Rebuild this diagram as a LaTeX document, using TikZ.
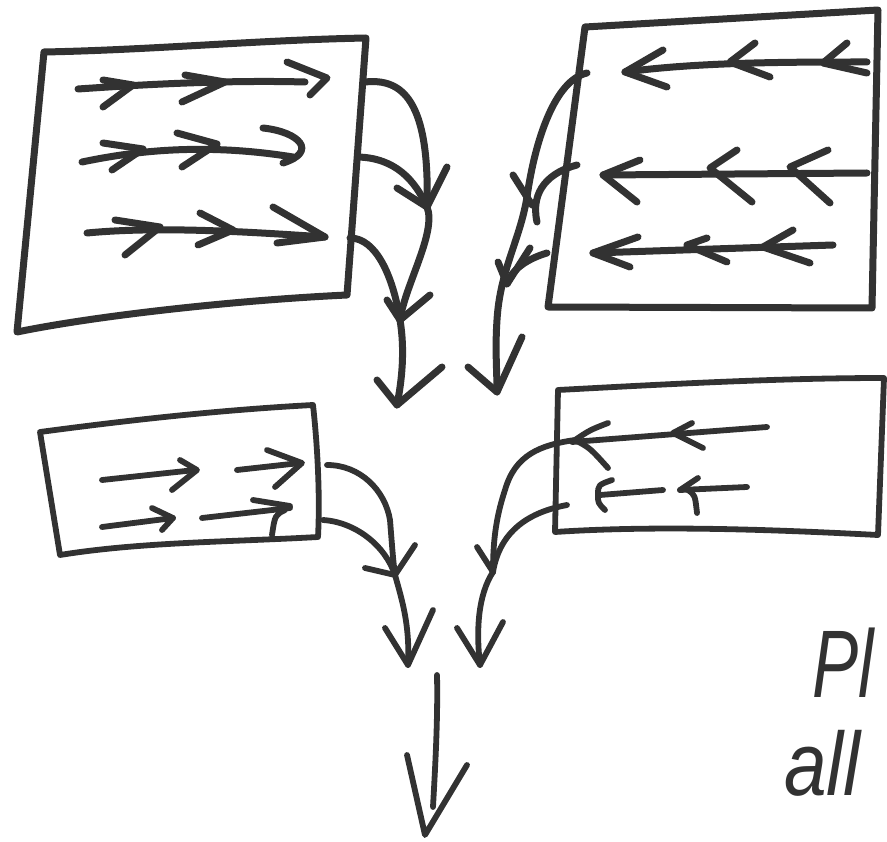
\documentclass[tikz,border=0pt]{standalone}
\usepackage{fontspec}
\newfontfamily\handfont{Liberation Sans}
\definecolor{ink}{RGB}{50,50,50}
\begin{document}
\begin{tikzpicture}[x=1pt,y=-1pt,
  pen/.style={draw=ink,line width=7pt,line cap=round,line join=round},
  thinpen/.style={draw=ink,line width=5.8pt,line cap=round,line join=round},
  handtext/.style={text=ink,font=\handfont\itshape,inner sep=0pt,anchor=south west}]
\useasboundingbox (0,0) rectangle (887,842);
\clip (0,0) rectangle (887,842);
\fill[white] (0,0) rectangle (887,842);

% ---------------- top-left box ----------------
\coordinate (tl1) at (44,52);
\coordinate (tl2) at (366,38);
\coordinate (tl3) at (347,295);
\coordinate (tl4) at (17,332);
\draw[pen] (tl1) .. controls (150,50) and (260,40) .. (tl2) -- (tl3) .. controls (240,300) and (100,315) .. (tl4) -- cycle;
% row 1
\draw[pen] (78,89) .. controls (150,84) and (230,80) .. (305,82);
\draw[pen] (103,80) -- (133,85) -- (103,107);
\draw[pen] (185,75) -- (225,82) -- (182,102);
\draw[pen] (287,62) -- (327,78) -- (310,95);
% row 2
\draw[pen] (82,162) .. controls (130,152) and (200,142) .. (293,157);
\draw[pen] (103,143) -- (143,149) -- (112,170);
\draw[pen] (177,133) -- (217,144) -- (182,167);
\draw[pen] (263,128) .. controls (300,132) and (318,152) .. (283,163);
% row 3
\draw[pen] (87,233) .. controls (160,226) and (250,232) .. (325,237);
\draw[pen] (115,220) -- (160,227) -- (125,255);
\draw[pen] (200,213) -- (233,230) -- (198,245);
\draw[pen] (273,207) -- (325,237) -- (277,243);

% connectors of top-left box
\coordinate (a1) at (365,82);
\coordinate (a2) at (358,157);
\coordinate (a3) at (350,238);
\coordinate (j1) at (427,207);
\coordinate (j2) at (400,320);
\coordinate (t1) at (397,405);
\draw[pen] (a1) .. controls (402,78) and (430,100) .. (j1);
\draw[pen] (a2) .. controls (395,158) and (415,180) .. (j1);
\draw[pen] (447,167) -- (j1) -- (397,188);
\draw[pen] (j1) .. controls (437,232) and (405,285) .. (j2);
\draw[pen] (a3) .. controls (376,238) and (393,276) .. (j2);
\draw[pen] (387,300) -- (j2) -- (430,295);
\draw[pen] (j2) .. controls (405,350) and (402,380) .. (t1);
\draw[pen] (377,380) -- (t1) -- (442,367);

% ---------------- top-right box ----------------
\coordinate (tr1) at (585,27);
\coordinate (tr2) at (878,10);
\coordinate (tr3) at (872,308);
\coordinate (tr4) at (548,307);
\draw[pen] (tr1) -- (tr2) -- (tr3) -- (tr4) -- cycle;
% row 1
\draw[pen] (867,62) .. controls (790,62) and (700,62) .. (625,72);
\draw[pen] (663,50) -- (625,72) -- (667,87);
\draw[pen] (755,43) -- (730,62) -- (770,77);
\draw[pen] (847,43) -- (823,63) -- (867,73);
% row 2
\draw[pen] (867,173) -- (603,175);
\draw[pen] (640,160) -- (603,175) -- (637,202);
\draw[pen] (737,150) -- (710,168) -- (752,202);
\draw[pen] (828,150) -- (790,167) -- (830,203);
% row 3
\draw[pen] (833,245) -- (593,253);
\draw[pen] (638,237) -- (593,253) -- (630,267);
\draw[pen] (707,238) -- (687,245) -- (727,262);
\draw[pen] (793,230) -- (763,247) -- (810,263);

% connectors of top-right box
\coordinate (b1) at (587,73);
\coordinate (b2) at (577,165);
\coordinate (b3) at (547,253);
\coordinate (j3) at (537,222);
\coordinate (j4) at (507,284);
\coordinate (t2) at (497,392);
\draw[pen] (b1) .. controls (555,80) and (535,140) .. (527,197) .. controls (520,240) and (500,270) .. (497,320) .. controls (495,350) and (497,370) .. (t2);
\draw[pen] (b2) .. controls (550,172) and (530,190) .. (j3);
\draw[pen] (513,175) -- (532,205);
\draw[pen] (b3) .. controls (530,258) and (512,268) .. (j4);
\draw[pen] (498,262) -- (j4) -- (530,248);
\draw[pen] (468,367) -- (t2) -- (522,337);

% ---------------- bottom-left box ----------------
\coordinate (bl1) at (40,432);
\coordinate (bl2) at (313,405);
\coordinate (bl3) at (318,537);
\coordinate (bl4) at (60,555);
\draw[thinpen] (bl1) .. controls (130,420) and (220,410) .. (bl2) .. controls (318,450) and (320,500) .. (bl3) .. controls (230,542) and (140,542) .. (bl4) -- cycle;
\draw[thinpen] (102,480) -- (195,470);
\draw[thinpen] (180,460) -- (197,470) -- (172,490);
\draw[thinpen] (237,470) -- (300,463);
\draw[thinpen] (267,450) -- (302,463) -- (275,487);
\draw[thinpen] (102,527) -- (173,518);
\draw[thinpen] (152,508) -- (173,518) -- (162,530);
\draw[thinpen] (202,518) -- (290,508);
\draw[thinpen] (253,500) -- (290,506);
\draw[thinpen] (285,510) .. controls (275,515) .. (272,535);

% connectors of bottom-left box
\coordinate (c1) at (327,465);
\coordinate (c2) at (323,520);
\coordinate (j5) at (395,575);
\coordinate (t3) at (408,665);
\draw[thinpen] (c1) .. controls (360,465) and (385,490) .. (390,520) .. controls (392,545) and (393,560) .. (j5);
\draw[thinpen] (c2) .. controls (355,522) and (385,545) .. (j5);
\draw[thinpen] (365,568) -- (j5) -- (415,545);
\draw[thinpen] (j5) .. controls (402,600) and (410,625) .. (t3);
\draw[thinpen] (385,628) -- (t3) -- (433,610);

% ---------------- bottom-right box ----------------
\coordinate (br1) at (558,390);
\coordinate (br2) at (884,378);
\coordinate (br3) at (878,535);
\coordinate (br4) at (555,532);
\draw[thinpen] (br1) .. controls (670,384) and (780,378) .. (br2) -- (br3) .. controls (780,530) and (660,525) .. (br4) -- cycle;
\draw[thinpen] (767,427) -- (572,442);
\draw[thinpen] (692,423) -- (673,433) -- (703,448);
\draw[thinpen] (608,423) .. controls (590,430) .. (575,440) .. controls (590,448) .. (608,468);
\draw[thinpen] (747,487) -- (680,490);
\draw[thinpen] (698,478) -- (680,490);
\draw[thinpen] (688,490) .. controls (695,495) .. (697,513);
\draw[thinpen] (663,490) -- (600,495);
\draw[thinpen] (612,480) .. controls (598,485) .. (598,495) .. controls (598,503) .. (605,510);

% connectors of bottom-right box
\coordinate (d1) at (575,440);
\coordinate (d2) at (567,505);
\coordinate (j6) at (493,572);
\coordinate (t4) at (480,665);
\draw[thinpen] (d1) .. controls (540,445) and (515,455) .. (505,490) .. controls (495,520) and (493,545) .. (j6);
\draw[thinpen] (d2) .. controls (530,512) and (500,530) .. (j6);
\draw[thinpen] (477,547) -- (j6);
\draw[thinpen] (j6) .. controls (478,595) and (476,630) .. (t4);
\draw[thinpen] (457,628) -- (t4) -- (503,622);

% ---------------- final arrow ----------------
\coordinate (f0) at (437,675);
\coordinate (f1) at (433,807);
\coordinate (t5) at (425,835);
\draw[thinpen] (f0) .. controls (438,720) and (435,770) .. (f1);
\draw[thinpen] (407,755) -- (t5) -- (467,765);

% ---------------- handwritten text ----------------
\node[handtext,xscale=0.72] (pl) at (812,698) {\fontsize{96}{96}\selectfont Pl};
\node[handtext,xscale=0.85] (all) at (784,797) {\fontsize{90}{90}\selectfont all};
\end{tikzpicture}
\end{document}
